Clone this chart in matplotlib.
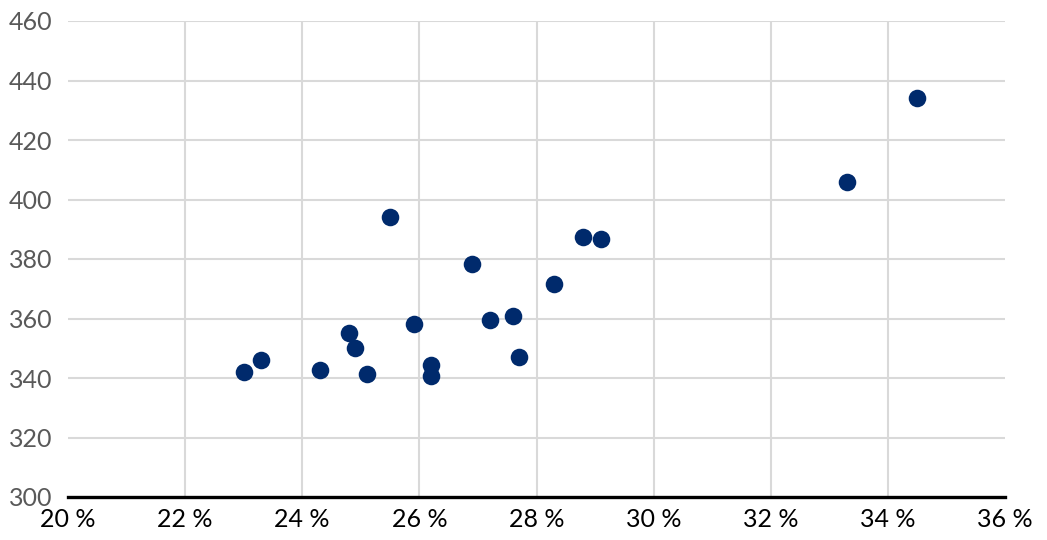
import matplotlib
matplotlib.use("Agg")
import matplotlib.pyplot as plt
from matplotlib.ticker import FuncFormatter

x_pct = [23.0, 23.3, 24.3, 24.8, 24.9, 25.1, 25.5, 25.9, 26.2, 26.2,
         26.9, 27.2, 27.6, 27.7, 28.3, 28.8, 29.1, 33.3, 34.5]
y_val = [342, 346, 342.7, 355, 350, 341.5, 394, 358, 344.4, 340.8,
         378.3, 359.5, 361, 347, 371.5, 387.4, 386.8, 406, 434]

x_ticks = [20, 22, 24, 26, 28, 30, 32, 34, 36]
y_ticks = [300, 320, 340, 360, 380, 400, 420, 440, 460]

plt.rcParams['font.family'] = ['Lato', 'DejaVu Sans']
fig = plt.figure(figsize=(10.47, 5.4), dpi=100)
ax = fig.add_axes([68/1047, 1-497/540, (1005-68)/1047, (497-21)/540])

ax.scatter(x_pct, y_val, s=160, color='#002a6c', zorder=3, linewidths=0)

ax.set_xlim(20, 36)
ax.set_ylim(300, 460)
ax.set_xticks(x_ticks)
ax.set_yticks(y_ticks)
ax.xaxis.set_major_formatter(FuncFormatter(lambda v, p: f"{int(round(v))} %"))
ax.yaxis.set_major_formatter(FuncFormatter(lambda v, p: f"{int(round(v))}"))

for v in x_ticks[1:-1]:
    ax.axvline(v, color='#d9d9d9', lw=1.5, zorder=1)
for v in y_ticks[1:]:
    ax.axhline(v, color='#d9d9d9', lw=1.5, zorder=1)

for s in ['top', 'right', 'left']:
    ax.spines[s].set_visible(False)
ax.spines['bottom'].set_color('black')
ax.spines['bottom'].set_linewidth(2.4)
ax.spines['bottom'].set_zorder(4)

ax.tick_params(axis='both', length=0)
ax.tick_params(axis='x', labelsize=18, colors='black', pad=8)
ax.tick_params(axis='y', labelsize=18, colors='#595959', pad=11)

fig.savefig('out.png', dpi=100)
